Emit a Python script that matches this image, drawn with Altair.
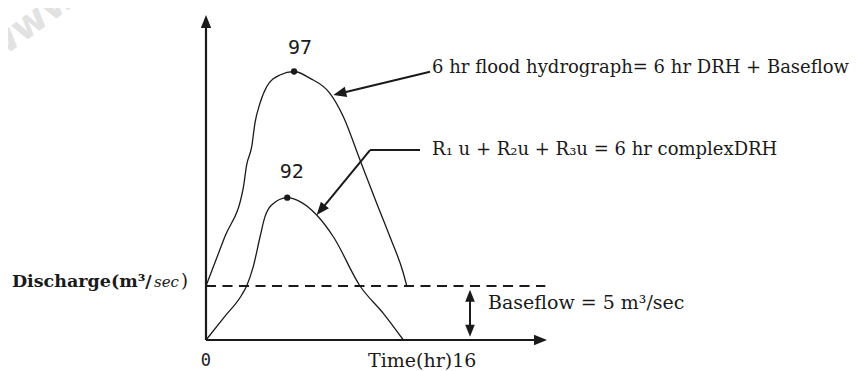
import math
import altair as alt
import pandas as pd

# ---- data (schematic hydrograph) ----
upper_t = [0.00, 1.10, 2.19, 2.39, 2.69, 2.88, 3.18, 3.57, 4.35, 5.18, 6.12, 7.29, 8.08, 9.06, 10.04, 10.82, 11.61, 11.81]
upper_q = [5.00, 9.53, 14.07, 16.20, 17.90, 20.09, 21.94, 23.45, 24.54, 24.86, 24.23, 22.84, 20.68, 16.67, 12.66, 9.56, 6.18, 5.00]
lower_t = [0.00, 1.05, 2.10, 2.39, 2.78, 3.18, 3.47, 3.86, 4.78, 5.53, 6.51, 7.49, 9.06, 10.43, 11.61]
lower_q = [0.00, 2.08, 4.17, 5.00, 6.79, 9.56, 11.42, 12.50, 13.18, 12.81, 11.57, 9.56, 5.00, 2.47, 0.00]
peak_t = [5.18, 4.78]
peak_q = [24.86, 13.18]
peak_labels = ["97", "92"]
baseflow = 5.0
axis_t_end = 20.06
axis_q_end = 30.09

# ---- layout of the drawing ----
W, H = 841, 363
X_DOM = [-11.647, 37.824]
Y_DOM = [-2.8704, 30.7407]
KX = W / (X_DOM[1] - X_DOM[0])
KY = H / (Y_DOM[1] - Y_DOM[0])
INK = "#1a1a1a"
SERIF = "DejaVu Serif"


def X(f="t"):
    return alt.X(f"{f}:Q", scale=alt.Scale(domain=X_DOM, nice=False, zero=False), axis=None)


def Y(f="q"):
    return alt.Y(f"{f}:Q", scale=alt.Scale(domain=Y_DOM, nice=False, zero=False), axis=None)


def curve(ts, qs):
    df = pd.DataFrame({"t": ts, "q": qs})
    return alt.Chart(df).mark_line(interpolate="monotone", color=INK, strokeWidth=1.3).encode(x=X(), y=Y())


def rules(rows, width=2.0, dash=None):
    kw = dict(color=INK, strokeWidth=width)
    if dash:
        kw["strokeDash"] = dash
    return alt.Chart(pd.DataFrame(rows, columns=["t", "q", "t2", "q2"])).mark_rule(**kw).encode(
        x=X(), y=Y(), x2="t2:Q", y2="q2:Q")


HEAD = "M1,0L-1,-0.8L-1,0.8Z"  # arrowhead pointing right


def head(t_tip, q_tip, t_from, q_from, size=169):
    dx = (t_tip - t_from) * KX
    dy = -(q_tip - q_from) * KY
    ang = math.degrees(math.atan2(dy, dx)) % 360
    half = math.sqrt(size) / 2
    L = math.hypot(dx, dy)
    ct = t_tip - half * dx / L / KX
    cq = q_tip + half * dy / L / KY
    df = pd.DataFrame({"t": [ct], "q": [cq]})
    return alt.Chart(df).mark_point(shape=HEAD, filled=True, size=size, angle=ang, color=INK,
                                    opacity=1, strokeWidth=0).encode(x=X(), y=Y()), (ct, cq)


def text(s, t, q, size=18, align="left", font=SERIF, style="normal", weight="normal", color=INK, angle=0):
    df = pd.DataFrame({"t": [t], "q": [q], "s": [s]})
    kw = dict(align=align, baseline="middle", font=font, fontSize=size, fontStyle=style,
              fontWeight=weight, color=color)
    if angle:
        kw["angle"] = angle
    return alt.Chart(df).mark_text(**kw).encode(x=X(), y=Y(), text="s:N")


layers = []

# watermark
layers.append(text("www", -10.35, 29.26, size=38, align="center", font="DejaVu Sans", weight="bold",
                   color="#e2e2e2", angle=324))

# axes with arrowheads
layers.append(rules([[0, 0, 0, axis_q_end - 0.6], [0, 0, axis_t_end - 0.4, 0]], width=2.2))
h, _ = head(0, axis_q_end, 0, 0); layers.append(h)
h, _ = head(axis_t_end, 0, 0, 0); layers.append(h)

# baseflow dashed line
layers.append(rules([[0, baseflow, axis_t_end - 0.1, baseflow]], width=1.8, dash=[10, 6.5]))

# baseflow double arrow
bx = 15.53
layers.append(rules([[bx, 0.6, bx, baseflow - 0.6]], width=2.0))
h, _ = head(bx, baseflow - 0.35, bx, 0, size=144); layers.append(h)
h, _ = head(bx, 0.3, bx, baseflow, size=144); layers.append(h)

# hydrographs
layers.append(curve(upper_t, upper_q))
layers.append(curve(lower_t, lower_q))
layers.append(alt.Chart(pd.DataFrame({"t": peak_t, "q": peak_q})).mark_point(
    filled=True, size=40, color=INK, opacity=1).encode(x=X(), y=Y()))
layers.append(alt.Chart(pd.DataFrame({"t": [peak_t[0] + 0.35, peak_t[1] + 0.26],
                                      "q": [peak_q[0] + 2.22, peak_q[1] + 2.40],
                                      "s": peak_labels})).mark_text(
    font="DejaVu Sans Mono", fontSize=20, color=INK, align="center", baseline="middle").encode(
    x=X(), y=Y(), text="s:N"))

# annotation arrow 1
a1 = (13.18, 24.84)
a1_tip = (7.49, 22.69)
h, c = head(a1_tip[0], a1_tip[1], a1[0], a1[1]); layers.append(h)
layers.append(rules([[a1[0], a1[1], c[0], c[1]]], width=2.0))
layers.append(text("6 hr flood hydrograph= 6 hr DRH + Baseflow", 13.3, 25.15))

# annotation arrow 2
a2 = (12.59, 17.59)
a2_corner = (9.65, 17.59)
a2_tip = (6.51, 11.57)
h, c = head(a2_tip[0], a2_tip[1], a2_corner[0], a2_corner[1]); layers.append(h)
layers.append(rules([[a2[0], a2[1], a2_corner[0], a2_corner[1]],
                     [a2_corner[0], a2_corner[1], c[0], c[1]]], width=2.0))
layers.append(text("R\u2081 u + R\u2082u + R\u2083u = 6 hr complexDRH", 13.3, 17.55))

# axis texts
layers.append(text("Discharge(m\u00b3/", -3.19, 5.4, size=17.5, align="right", weight="bold"))
layers.append(text("sec", -3.06, 5.4, size=15, style="italic"))
layers.append(text(")", -1.06, 5.4, size=18, align="right"))
layers.append(text("0", 0, -1.95, size=17, align="center", font="DejaVu Sans Mono"))
layers.append(text("Time(hr)16", 9.53, -1.95, size=19))
layers.append(text("Baseflow = 5 m\u00b3/sec", 16.59, 3.43, size=19))

chart = alt.layer(*layers).properties(
    width=W, height=H, autosize=alt.AutoSizeParams(type="none"), padding=0, background="white"
).configure_view(stroke=None)

chart.save("out.html", embed_options={"renderer": "svg", "actions": False})
